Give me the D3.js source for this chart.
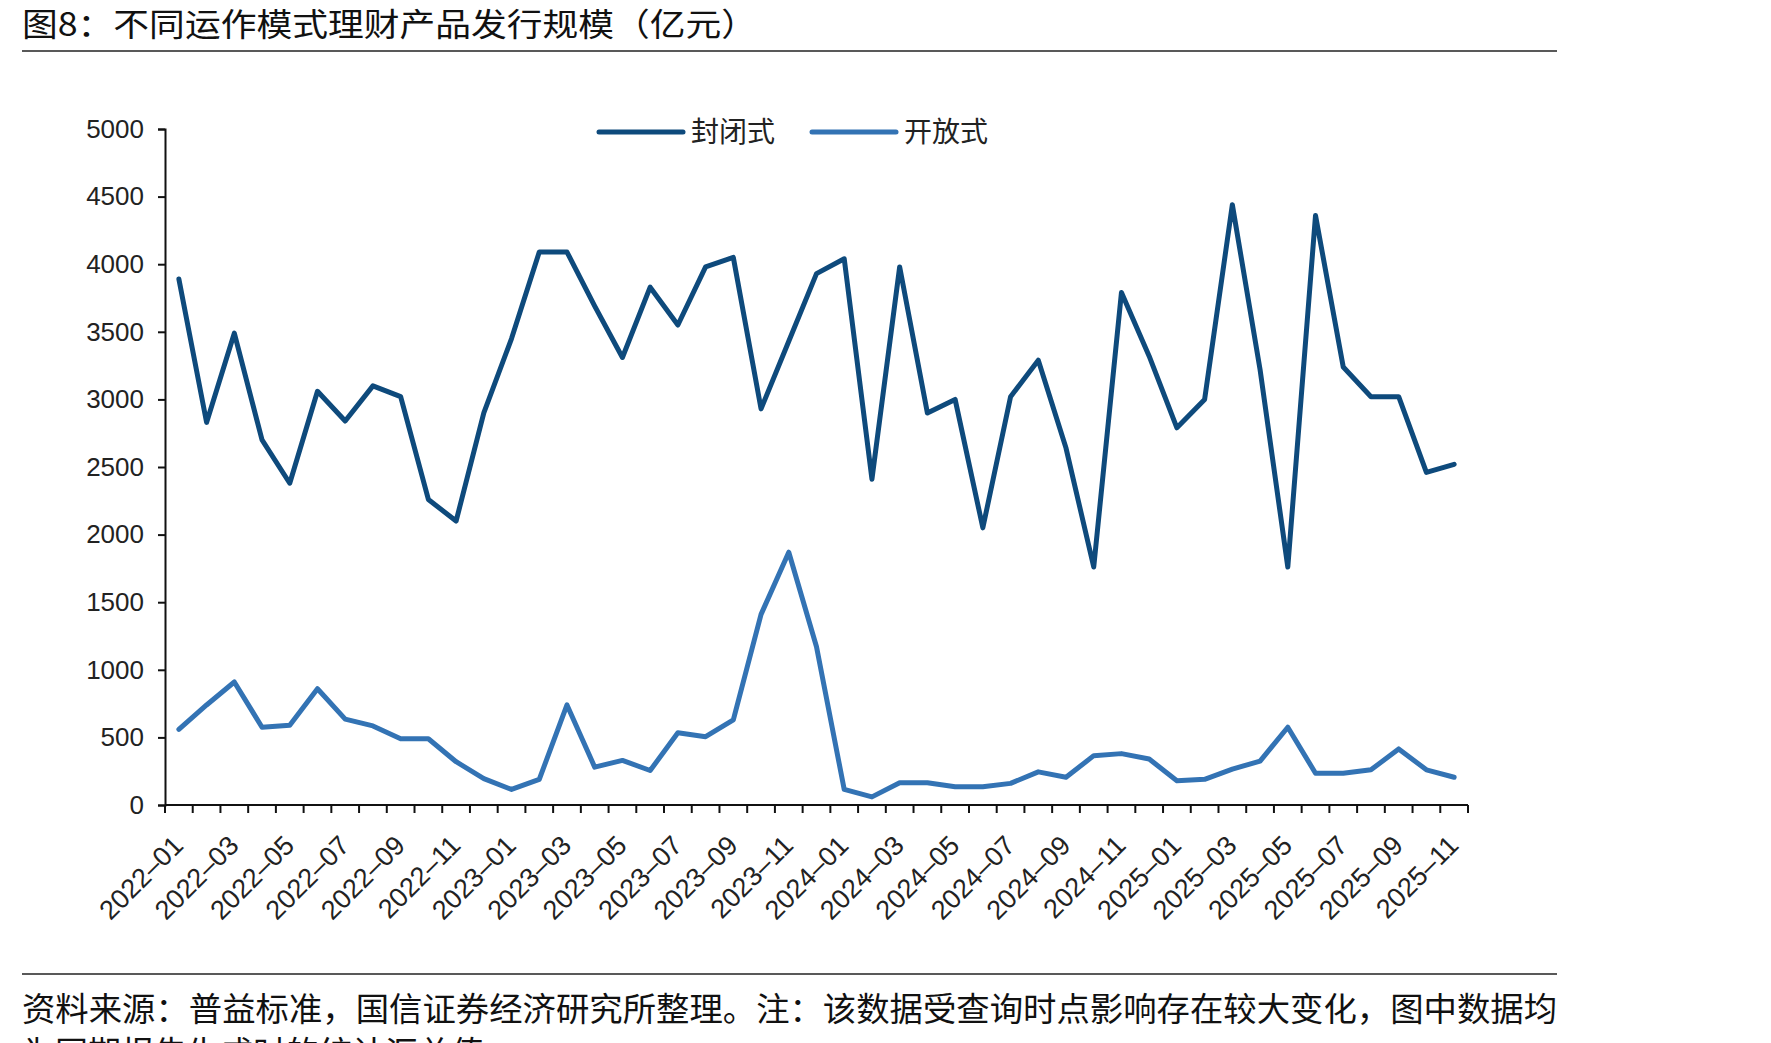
<!DOCTYPE html>
<html>
<head>
<meta charset="utf-8">
<script src="https://cdn.jsdelivr.net/npm/d3@7/dist/d3.min.js"></script>
<style>
  body { margin: 0; background: #fff; }
  svg { display: block; }
</style>
</head>
<body>
<script>
// Data (亿元)
const months = [
  "2022-01","2022-02","2022-03","2022-04","2022-05","2022-06","2022-07","2022-08","2022-09","2022-10","2022-11","2022-12",
  "2023-01","2023-02","2023-03","2023-04","2023-05","2023-06","2023-07","2023-08","2023-09","2023-10","2023-11","2023-12",
  "2024-01","2024-02","2024-03","2024-04","2024-05","2024-06","2024-07","2024-08","2024-09","2024-10","2024-11","2024-12",
  "2025-01","2025-02","2025-03","2025-04","2025-05","2025-06","2025-07","2025-08","2025-09","2025-10","2025-11"
];

const closedIssue = [
  3890, 2830, 3490, 2700, 2380, 3060, 2840, 3100, 3020, 2260, 2100, 2900,
  3450, 4090, 4090, 3690, 3310, 3830, 3550, 3980, 4050, 2930, 3430, 3930,
  4040, 2410, 3980, 2900, 3000, 2050, 3020, 3290, 2640, 1760, 3790, 3320,
  2790, 3000, 4440, 3220, 1760, 4360, 3240, 3020, 3020, 2460, 2520
];

const openIssue = [
  560, 740, 910, 575, 590, 860, 635, 585, 490, 490, 320, 195,
  115, 190, 740, 280, 330, 255, 535, 505, 630, 1410, 1870, 1170,
  115, 60, 165, 165, 135, 135, 160, 245, 205, 365, 380, 340,
  180, 190, 265, 325, 575, 235, 235, 260, 415, 260, 205
];

const yTicks = [0, 500, 1000, 1500, 2000, 2500, 3000, 3500, 4000, 4500, 5000];
const seriesNames = ["封闭式", "开放式"];
const seriesColors = ["#0e4a7c", "#3373b4"];

const titleText = "图8：不同运作模式理财产品发行规模（亿元）";
const sourceLines = [
  "资料来源：普益标准，国信证券经济研究所整理。注：该数据受查询时点影响存在较大变化，图中数据均",
  "为同期报告生成时的统计汇总值"
];

const width = 1771, height = 1043;
const margin = { left: 165, right: 303, top: 129, bottom: 238 };
const cjkFont = "'Noto Sans CJK SC', 'Noto Sans', sans-serif";
const numFont = "'Liberation Sans', Arial, sans-serif";

const svg = d3.select("body").append("svg")
  .attr("width", width)
  .attr("height", height);

// Title and rules
svg.append("text")
  .attr("x", 22)
  .attr("y", 36)
  .attr("font-family", cjkFont)
  .attr("font-size", 32)
  .attr("fill", "#111")
  .attr("textLength", 735)
  .attr("lengthAdjust", "spacingAndGlyphs")
  .text(titleText);

svg.append("line")
  .attr("x1", 22).attr("x2", 1557)
  .attr("y1", 51).attr("y2", 51)
  .attr("stroke", "#222").attr("stroke-width", 1.5);

svg.append("line")
  .attr("x1", 22).attr("x2", 1557)
  .attr("y1", 974).attr("y2", 974)
  .attr("stroke", "#222").attr("stroke-width", 1.5);

// Source note; the second line runs off the bottom edge as in the original
svg.selectAll("text.source")
  .data(sourceLines)
  .join("text")
  .attr("class", "source")
  .attr("x", 22)
  .attr("y", (d, i) => 1021 + i * 44)
  .attr("font-family", cjkFont)
  .attr("font-size", 33)
  .attr("fill", "#111")
  .attr("textLength", (d, i) => i === 0 ? 1535 : null)
  .attr("lengthAdjust", "spacingAndGlyphs")
  .text(d => d);

// Scales
const x = d3.scaleBand()
  .domain(months)
  .range([margin.left, width - margin.right]);

const y = d3.scaleLinear()
  .domain([0, 5000])
  .range([height - margin.bottom, margin.top]);

const g = svg.append("g");

// Y axis
const yAxis = g.append("g")
  .attr("transform", `translate(${margin.left},0)`)
  .call(d3.axisLeft(y).tickValues(yTicks).tickSize(7).tickPadding(14).tickFormat(d3.format("d")));
yAxis.select(".domain").attr("stroke", "#111").attr("stroke-width", 2);
yAxis.selectAll(".tick line").attr("stroke", "#111").attr("stroke-width", 2);
yAxis.selectAll(".tick text")
  .attr("font-family", numFont)
  .attr("font-size", 26)
  .attr("fill", "#222");

// X axis: ticks between categories, labels every other month
const xAxisY = height - margin.bottom;
const xg = g.append("g");
xg.append("line")
  .attr("x1", margin.left).attr("x2", width - margin.right)
  .attr("y1", xAxisY).attr("y2", xAxisY)
  .attr("stroke", "#111").attr("stroke-width", 2);

const boundaries = months.map(m => x(m)).concat([x(months[months.length - 1]) + x.bandwidth()]);
xg.selectAll("line.xtick")
  .data(boundaries)
  .join("line")
  .attr("class", "xtick")
  .attr("x1", d => d).attr("x2", d => d)
  .attr("y1", xAxisY).attr("y2", xAxisY + 8)
  .attr("stroke", "#111").attr("stroke-width", 2);

xg.selectAll("text.xlabel")
  .data(months.filter((m, i) => i % 2 === 0))
  .join("text")
  .attr("class", "xlabel")
  .attr("transform", d => `translate(${x(d) + x.bandwidth() / 2 + 6},${xAxisY + 42}) rotate(-45)`)
  .attr("text-anchor", "end")
  .attr("font-family", numFont)
  .attr("font-size", 27)
  .attr("fill", "#222")
  .text(d => d.replace("-", "–"));

// Lines
const line = d3.line()
  .x((d, i) => x(months[i]) + x.bandwidth() / 2)
  .y(d => y(d));

[closedIssue, openIssue].forEach((values, k) => {
  g.append("path")
    .datum(values)
    .attr("fill", "none")
    .attr("stroke", seriesColors[k])
    .attr("stroke-width", 5)
    .attr("stroke-linejoin", "round")
    .attr("stroke-linecap", "round")
    .attr("d", line);
});

// Legend
const legendItems = [
  { name: seriesNames[0], color: seriesColors[0], x1: 599, x2: 683, tx: 691 },
  { name: seriesNames[1], color: seriesColors[1], x1: 812, x2: 896, tx: 904 }
];
const legend = svg.append("g");
legend.selectAll("line")
  .data(legendItems)
  .join("line")
  .attr("x1", d => d.x1).attr("x2", d => d.x2)
  .attr("y1", 132).attr("y2", 132)
  .attr("stroke", d => d.color)
  .attr("stroke-width", 5)
  .attr("stroke-linecap", "round");
legend.selectAll("text")
  .data(legendItems)
  .join("text")
  .attr("x", d => d.tx)
  .attr("y", 142)
  .attr("font-family", cjkFont)
  .attr("font-size", 28)
  .attr("fill", "#222")
  .text(d => d.name);
</script>
</body>
</html>
